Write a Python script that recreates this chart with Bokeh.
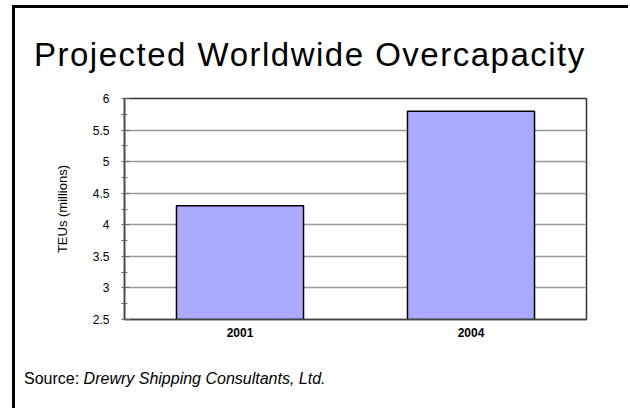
from bokeh.plotting import figure
from bokeh.models import FixedTicker, Range1d, Div
from bokeh.layouts import column, row
from bokeh.embed import file_html
from bokeh.resources import INLINE

years = ["2001", "2004"]
teus = [4.3, 5.8]
y_ticks = [2.5, 3, 3.5, 4, 4.5, 5, 5.5, 6]
y_minor = [2.75, 3.25, 3.75, 4.25, 4.75, 5.25, 5.75]
y_tick_labels = {2.5: "2.5", 3: "3", 3.5: "3.5", 4: "4", 4.5: "4.5", 5: "5", 5.5: "5.5", 6: "6"}
title_text = "Projected Worldwide Overcapacity"
source_label = "Source:"
source_text = "Drewry Shipping Consultants, Ltd."
y_label = "TEUs (millions)"

CW = 600  # content width

top_gap = Div(text="", width=10, height=5, margin=0)
top_pad = Div(text="", width=12, height=3, margin=0)
top_bar = Div(text="", width=616, height=3, margin=0, styles={"background-color": "black"})

title_div = Div(
    text=('<div style="font-family:\'Liberation Sans\',Arial,sans-serif;font-size:33px;line-height:33px;'
          'padding-top:30px;padding-left:19px;letter-spacing:1.5px;color:black;'
          'white-space:nowrap;">' + title_text + '</div>'),
    width=CW, height=70, margin=0)

p = figure(x_range=years, y_range=Range1d(2.5, 6), width=CW, height=281,
           output_backend="svg", toolbar_location=None, margin=0,
           min_border_left=109, min_border_right=29, min_border_top=20, min_border_bottom=40)

p.vbar(x=years, top=teus, bottom=2.5, width=0.55, fill_color="#aaaaff",
       line_color="black", line_width=1.5)

p.background_fill_color = "white"
p.border_fill_color = "white"
p.outline_line_color = "#333333"
p.outline_line_width = 1.5

p.xgrid.grid_line_color = None
p.ygrid.grid_line_color = "#999999"
p.ygrid.grid_line_width = 1.5
p.ygrid.ticker = FixedTicker(ticks=y_ticks)

p.yaxis.ticker = FixedTicker(ticks=y_ticks, minor_ticks=y_minor)
p.yaxis.major_label_overrides = y_tick_labels
p.yaxis.axis_line_color = "#444444"
p.yaxis.axis_line_width = 1.5
p.yaxis.major_tick_line_color = "#666666"
p.yaxis.minor_tick_line_color = "#666666"
p.yaxis.major_tick_in = 5
p.yaxis.major_tick_out = 3
p.yaxis.minor_tick_in = 3
p.yaxis.minor_tick_out = 3
p.yaxis.major_label_text_font = "Liberation Sans"
p.yaxis.major_label_text_font_size = "12px"
p.yaxis.major_label_text_color = "black"
p.yaxis.major_label_standoff = 12
p.yaxis.axis_label = y_label
p.yaxis.axis_label_text_font = "Liberation Sans"
p.yaxis.axis_label_text_font_size = "13px"
p.yaxis.axis_label_text_font_style = "normal"
p.yaxis.axis_label_text_color = "black"
p.yaxis.axis_label_standoff = 20

p.xaxis.axis_line_color = "#444444"
p.xaxis.axis_line_width = 1.5
p.xaxis.major_tick_line_color = None
p.xaxis.minor_tick_line_color = None
p.xaxis.major_label_text_font = "Liberation Sans"
p.xaxis.major_label_text_font_size = "12px"
p.xaxis.major_label_text_font_style = "bold"
p.xaxis.major_label_text_color = "black"
p.xaxis.major_label_standoff = 2

src_div = Div(
    text=('<div style="font-family:\'Liberation Sans\',Arial,sans-serif;font-size:16px;line-height:16px;'
          'padding-top:12px;padding-left:9px;color:black;white-space:nowrap;">'
          + source_label + ' <i>' + source_text + '</i></div>'),
    width=CW, height=43, margin=0)

spacer = Div(text="", width=12, height=400, margin=0)
left_bar = Div(text="", width=3, height=400, margin=0, styles={"background-color": "black"})

content = column(title_div, p, src_div, spacing=0, margin=0)
layout = column(top_gap, row(top_pad, top_bar, spacing=0, margin=0),
                row(spacer, left_bar, content, spacing=0, margin=0), spacing=0, margin=0)

open("out.html", "w").write(file_html(layout, INLINE))
